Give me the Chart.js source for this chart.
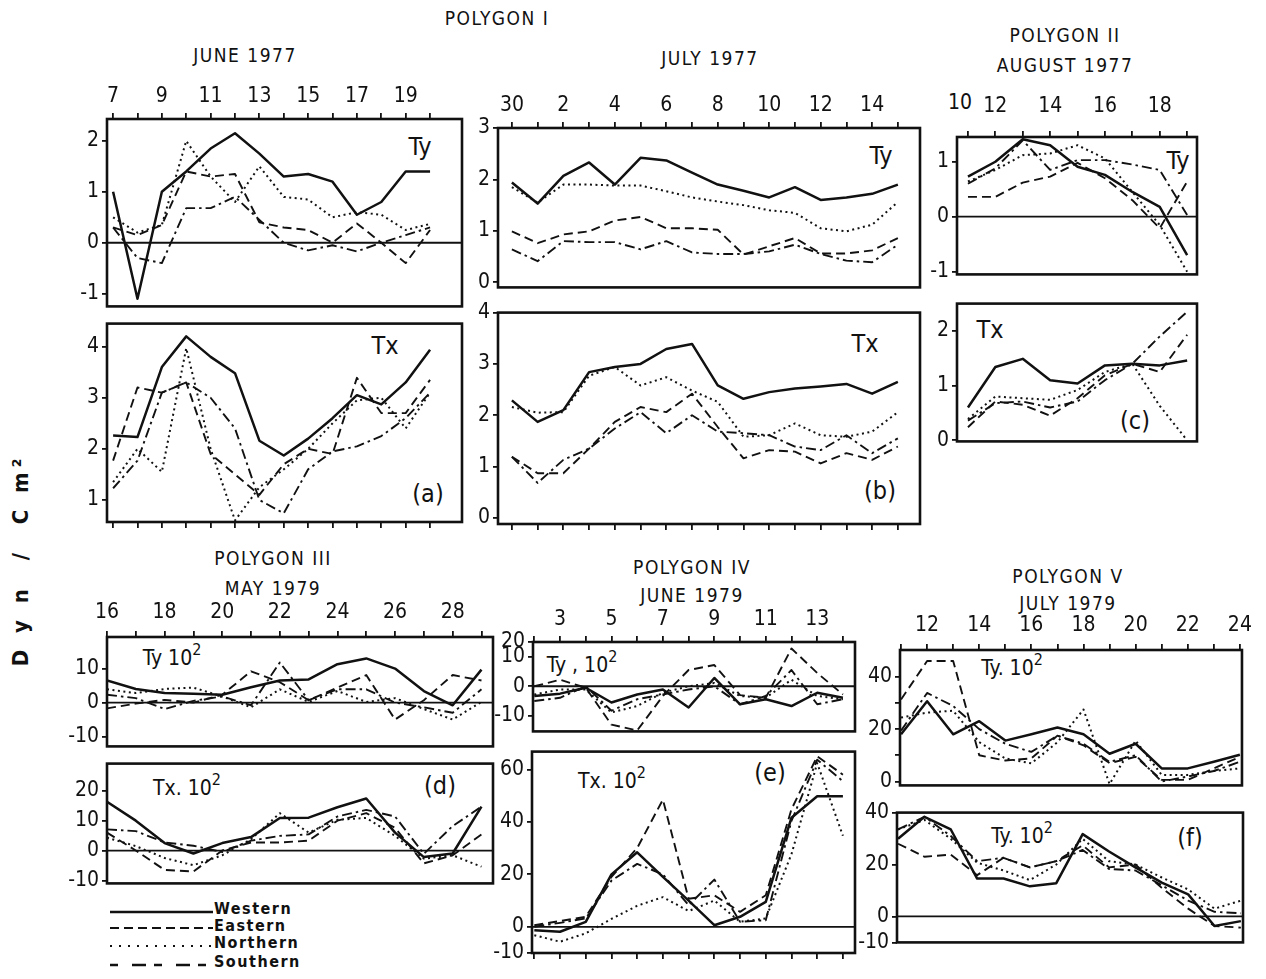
<!DOCTYPE html>
<html><head><meta charset="utf-8">
<script src="https://cdn.jsdelivr.net/npm/chart.js@4.4.1/dist/chart.umd.min.js"></script>
<style>
html,body{margin:0;padding:0;background:#fff;}
#page{position:relative;width:1266px;height:979px;overflow:hidden;font-family:"DejaVu Sans Condensed","DejaVu Sans",sans-serif;color:#111;background:#fff;}
canvas{position:absolute;}
.t{position:absolute;transform:translate(-50%,-50%);white-space:nowrap;font-size:19px;letter-spacing:1.5px;}
.lab{position:absolute;transform:translate(-50%,-50%);white-space:nowrap;font-size:25px;}
.lab2{position:absolute;transform:translate(-50%,-50%);white-space:nowrap;font-size:21px;}
.lab2 sup{font-size:16px;vertical-align:10px;}
.leg{position:absolute;transform:translateY(-50%);white-space:nowrap;font-size:16px;font-weight:bold;letter-spacing:1.5px;}
</style></head><body><div id="page">
<div class="t" style="left:497px;top:18px">POLYGON I</div>
<div class="t" style="left:245px;top:55px">JUNE 1977</div>
<div class="t" style="left:710px;top:58px">JULY 1977</div>
<div class="t" style="left:1065px;top:35px">POLYGON II</div>
<div class="t" style="left:1065px;top:65px">AUGUST 1977</div>
<div class="t" style="left:273px;top:558px">POLYGON III</div>
<div class="t" style="left:273px;top:588px">MAY 1979</div>
<div class="t" style="left:692px;top:567px">POLYGON IV</div>
<div class="t" style="left:692px;top:595px">JUNE 1979</div>
<div class="t" style="left:1068px;top:576px">POLYGON V</div>
<div class="t" style="left:1068px;top:603px">JULY 1979</div>
<div class="t" style="left:960px;top:102px;letter-spacing:0;font-size:21px">10</div>

<div class="lab" style="left:420px;top:146px">Ty</div>
<div class="lab" style="left:385px;top:345px">Tx</div>
<div class="lab" style="left:428px;top:493px">(a)</div>
<div class="lab" style="left:881px;top:155px">Ty</div>
<div class="lab" style="left:865px;top:343px">Tx</div>
<div class="lab" style="left:880px;top:490px">(b)</div>
<div class="lab" style="left:1178px;top:160px">Ty</div>
<div class="lab" style="left:990px;top:329px">Tx</div>
<div class="lab" style="left:1135px;top:420px">(c)</div>
<div class="lab2" style="left:172px;top:655px">Ty 10<sup>2</sup></div>
<div class="lab2" style="left:187px;top:785px">Tx. 10<sup>2</sup></div>
<div class="lab" style="left:440px;top:785px">(d)</div>
<div class="lab2" style="left:582px;top:662px">Ty , 10<sup>2</sup></div>
<div class="lab2" style="left:612px;top:778px">Tx. 10<sup>2</sup></div>
<div class="lab" style="left:770px;top:772px">(e)</div>
<div class="lab2" style="left:1012px;top:665px">Ty. 10<sup>2</sup></div>
<div class="lab2" style="left:1022px;top:833px">Ty. 10<sup>2</sup></div>
<div class="lab" style="left:1190px;top:837px">(f)</div>

<div style="position:absolute;left:20px;top:560px;transform:translate(-50%,-50%) rotate(-90deg);white-space:nowrap;font-size:22px;font-weight:bold;letter-spacing:5px;">D y n &nbsp;/ &nbsp;C m²</div>

<svg style="position:absolute;left:100px;top:895px" width="120" height="84">
 <line x1="10" y1="17" x2="113" y2="17" stroke="#111" stroke-width="2.4"/>
 <line x1="10" y1="33" x2="113" y2="33" stroke="#111" stroke-width="2.2" stroke-dasharray="9,5"/>
 <line x1="10" y1="51" x2="113" y2="51" stroke="#111" stroke-width="2.2" stroke-dasharray="2,7"/>
 <line x1="10" y1="70" x2="113" y2="70" stroke="#111" stroke-width="2.6" stroke-dasharray="8,14,14,8"/>
</svg>
<div class="leg" style="left:214px;top:908px">Western</div>
<div class="leg" style="left:214px;top:925px">Eastern</div>
<div class="leg" style="left:214px;top:942px">Northern</div>
<div class="leg" style="left:214px;top:961px">Southern</div>
</div>
<script>
const FONT = '"DejaVu Sans Condensed","DejaVu Sans",sans-serif';

// ---------- (a) Polygon I, June 1977 ----------
const aDays = [7,8,9,10,11,12,13,14,15,16,17,18,19,20];
const aTyW = [1.0,-1.1,1.0,1.4,1.85,2.15,1.75,1.3,1.35,1.2,0.55,0.8,1.4,1.4];
const aTyE = [0.3,0.15,0.35,1.4,1.3,1.35,0.4,0.3,0.25,0.0,0.38,0.0,-0.4,0.25];
const aTyN = [0.5,0.2,0.35,2.0,1.3,0.8,1.5,0.9,0.85,0.5,0.6,0.55,0.25,0.37];
const aTyS = [0.3,-0.3,-0.4,0.68,0.68,0.9,0.45,0.0,-0.15,-0.05,-0.17,0.0,0.15,0.3];
const aTxW = [2.26,2.23,3.6,4.2,3.8,3.48,2.16,1.87,2.2,2.6,3.05,2.87,3.3,3.94];
const aTxE = [1.77,3.2,3.1,3.3,1.9,1.5,1.1,1.7,2.0,1.9,3.39,2.7,2.7,3.35];
const aTxN = [1.35,2.0,1.55,3.97,2.0,0.6,1.25,1.6,2.0,2.5,2.95,3.0,2.4,3.1];
const aTxS = [1.23,1.77,3.1,3.3,3.0,2.4,1.0,0.74,1.6,1.95,2.05,2.25,2.6,3.1];

// ---------- (b) Polygon I, July 1977 (30 June .. 15 July) ----------
const bDays = [0,1,2,3,4,5,6,7,8,9,10,11,12,13,14,15];
const bDayLabels = ['30','1','2','3','4','5','6','7','8','9','10','11','12','13','14','15'];
const bTyW = [1.94,1.53,2.07,2.33,1.9,2.42,2.37,2.13,1.9,1.78,1.65,1.85,1.6,1.65,1.72,1.9];
const bTyE = [0.99,0.76,0.93,0.99,1.2,1.27,1.05,1.05,1.02,0.54,0.7,0.86,0.56,0.56,0.62,0.86];
const bTyN = [1.85,1.55,1.9,1.9,1.88,1.88,1.77,1.65,1.57,1.5,1.4,1.35,1.05,0.99,1.12,1.56];
const bTyS = [0.64,0.41,0.8,0.78,0.78,0.64,0.8,0.58,0.55,0.55,0.6,0.73,0.55,0.42,0.39,0.73];
const bTxW = [2.29,1.87,2.1,2.84,2.94,3.0,3.29,3.39,2.58,2.32,2.45,2.52,2.56,2.61,2.42,2.65];
const bTxE = [1.19,0.87,0.87,1.35,1.87,2.16,2.06,2.42,1.77,1.16,1.32,1.29,1.06,1.26,1.13,1.39];
const bTxN = [2.16,2.05,2.06,2.77,2.94,2.58,2.74,2.48,2.26,1.58,1.61,1.84,1.61,1.58,1.68,2.06];
const bTxS = [1.19,0.68,1.13,1.35,1.74,2.06,1.65,2.0,1.68,1.65,1.61,1.39,1.32,1.61,1.26,1.55];

// ---------- (c) Polygon II, August 1977 ----------
const cDays = [11,12,13,14,15,16,17,18,19];
const cTyW = [0.73,1.0,1.41,1.3,0.91,0.76,0.45,0.18,-0.7];
const cTyE = [0.36,0.36,0.62,0.73,0.98,0.7,0.3,-0.21,0.64];
const cTyN = [0.64,0.85,1.12,1.15,1.3,1.06,0.45,-0.15,-1.0];
const cTyS = [0.6,0.88,1.39,0.85,1.03,1.03,0.95,0.85,0.03];
const cTxW = [0.6,1.34,1.49,1.1,1.04,1.37,1.4,1.37,1.46];
const cTxE = [0.24,0.71,0.65,0.45,0.77,1.19,1.4,1.25,1.93];
const cTxN = [0.39,0.8,0.77,0.74,0.92,1.25,1.4,0.63,0.0];
const cTxS = [0.36,0.68,0.71,0.6,0.71,1.1,1.4,1.9,2.35];

// ---------- (d) Polygon III, May 1979 (x 10^2) ----------
const dDays = [16,17,18,19,20,21,22,23,24,25,26,27,28,29];
const dTyW = [6.5,4,2.8,2.6,2.3,4.5,6.5,6.8,11.3,13,10,3.4,-0.8,9.7];
const dTyE = [-1.7,-0.3,0.8,0.0,2.3,9.2,6,0.7,4.4,8.1,-5,0.7,8.1,6.5];
const dTyN = [3.9,2.8,4.0,4.4,1.8,-1.4,3.9,0.2,3.4,0.2,1.3,-1.9,-5,0.2];
const dTyS = [2.3,1.3,-1.9,0.5,1.8,-0.8,11.8,0.7,3.9,3.9,0,-1.4,-3,3.9];
const dTxW = [16.3,10,2.5,-1.0,2.5,4.5,10.9,11,14.5,17.4,6,-2.2,-1.0,14.7];
const dTxE = [6,0,-6.5,-7,0,2.7,2.7,3.3,10,12.5,7.6,-4.3,-1.6,5.4];
const dTxN = [4.3,1.5,-2.5,-4.9,-1.6,3.8,12.5,6,10.3,10.9,4.9,-2.7,-1.6,-5.4];
const dTxS = [7.1,6.5,2.7,1.6,-0.5,3.3,4.9,5.4,11.4,13.6,11.4,-1.1,8.2,14.7];

// ---------- (e) Polygon IV, June 1979 (x 10^2) ----------
const eDays = [2,3,4,5,6,7,8,9,10,11,12,13,14];
const eTyW = [-3.3,-2.5,-0.5,-5.5,-2.8,-1.1,-7.2,2.8,-6.1,-4.4,-6.7,-2.2,-3.9];
const eTyE = [0,2.2,-0.5,-13,-15,-3.3,5.5,7.2,-3,-3.9,12.8,4.5,-2.8];
const eTyN = [-2.8,-1.1,-1.1,-8.9,-6.7,-2.2,0,1.1,-3.3,-3.9,2.2,-3.3,-4.4];
const eTyS = [-5,-3.9,0,-8.3,-4.4,-2.8,-1.1,0,-6.1,-3.3,5.5,-6.1,-4.4];
const eTxW = [-1.3,-1.9,1.9,20,28.4,19,10,0.6,3.8,9.5,41.6,49.8,49.8];
const eTxE = [0.6,2.2,3.8,19,30,48.5,10.7,12,5.7,12,44.8,65,58];
const eTxN = [-3.2,-5.7,-2.5,3,8,11.3,6,10,1.9,3.2,27.7,62.4,34.7];
const eTxS = [0,1.5,3.2,17.6,24,20,8.2,18,1.9,2.5,40.4,63.7,55.5];

// ---------- (f) Polygon V, July 1979 (x 10^2) ----------
const fDays = [11,12,13,14,15,16,17,18,19,20,21,22,23,24];
const fTyW = [18,30.6,18,23,15.6,18,20.6,18,10.6,14.4,5,5,7.5,10.2];
const fTyE = [31.3,46,46,10,8,8.8,17.5,13.8,7,9.4,0.6,0.6,5,9.4];
const fTyN = [24.4,26.3,27,15,8.8,6.9,15,27.5,-1,15.6,2.5,2.5,4,5];
const fTyS = [19.4,33.8,28.8,20,14.4,11.3,17.5,14.4,7.5,10,0,1.9,4,7.5];
const fTxW = [29.9,38.4,33.5,14.6,14.6,11.6,12.8,31.7,25,18.9,13,8.5,-3.7,-1.8];
const fTxE = [28,23,23.8,15.9,22.6,18.9,21.3,27.4,18.9,20,11,3,-3.7,-4.3];
const fTxN = [33.5,37.2,29.9,20.7,17.7,14,20,29.9,21.3,20,15,10.4,3,6.1];
const fTxS = [33.5,38.4,31,21.3,22.6,18.9,21.3,25.6,18.3,17.7,12,6.1,1.8,1.2];

const STY = {
  W:{borderWidth:2.5, borderDash:[]},
  E:{borderWidth:1.9, borderDash:[9,5]},
  N:{borderWidth:2.0, borderDash:[2,3.5]},
  S:{borderWidth:1.9, borderDash:[10,4,2.5,4]}
};

Chart.register({
  id:'frame',
  beforeDatasetsDraw(chart, args, o){
    const a = chart.chartArea, c = chart.ctx;
    if (o.zero){
      const y = chart.scales.y.getPixelForValue(0);
      c.save(); c.strokeStyle='#111'; c.lineWidth=1.8;
      c.beginPath(); c.moveTo(a.left,y); c.lineTo(a.right,y); c.stroke(); c.restore();
    }
  },
  afterDraw(chart){
    const a = chart.chartArea, c = chart.ctx;
    c.save(); c.strokeStyle='#111'; c.lineWidth=2.6;
    c.strokeRect(a.left,a.top,a.right-a.left,a.bottom-a.top); c.restore();
  }
});

function range(a,b){const r=[];for(let i=a;i<=b;i++)r.push(i);return r;}

function panel(p){
  const YW=52, PR=16, PT=14, PB=14;
  const xPad = p.xPad || 4;
  const XH = p.xPos==='top'?(30+xPad):(p.xPos==='bottom'?7:0);
  const [l,t,r,b] = p.box;
  const cv = document.createElement('canvas');
  const w=(r-l)+YW+PR, h=(b-t)+PT+PB+XH;
  cv.width=w; cv.height=h;
  cv.style.width=w+'px'; cv.style.height=h+'px';
  cv.style.left=(l-YW)+'px';
  cv.style.top=(t-PT-(p.xPos==='top'?XH:0))+'px';
  document.getElementById('page').appendChild(cv);
  const datasets = p.series.map(([vals,k]) => Object.assign({
    data: p.days.map((d,i)=>({x:d,y:vals[i]})),
    borderColor:'#111', pointRadius:0, tension:0, fill:false,
    borderJoinStyle:'round'
  }, STY[k]));
  const tickFont = {family:FONT, size:21};
  new Chart(cv, {
    type:'line',
    data:{datasets},
    options:{
      responsive:false, animation:false, events:[],
      layout:{autoPadding:false, padding:{left:0,right:PR,top:PT,bottom:PB}},
      plugins:{legend:{display:false}, tooltip:{enabled:false}, frame:{zero:!!p.zero}},
      scales:{
        x:{type:'linear', display:p.xPos!=='none', position:p.xPos==='top'?'top':'bottom',
           min:p.xMin, max:p.xMax,
           afterBuildTicks(s){ s.ticks = p.xTicks.map(v=>({value:v})); },
           afterFit(s){ s.height = XH; },
           ticks:{autoSkip:false, maxRotation:0, minRotation:0, padding:xPad, color:'#111', font:tickFont,
                  callback:(v)=> p.xPos==='top' ? p.xLabel(v) : ''},
           grid:{drawOnChartArea:false, drawTicks:true, tickLength:6, color:'#111', lineWidth:1.8},
           border:{display:false}},
        y:{type:'linear', min:p.yMin, max:p.yMax,
           afterBuildTicks(s){ s.ticks = p.yTicks.map(v=>({value:v})); },
           afterFit(s){ s.width = YW; },
           ticks:{padding:3, color:'#111', font:tickFont,
                  callback:(v)=> p.yLabel ? p.yLabel(v) : String(v)},
           grid:{drawOnChartArea:false, drawTicks:true, tickLength:5, color:'#111', lineWidth:1.8},
           border:{display:false}}
      }
    }
  });
}

const odd = v => (v%2===1 ? String(v) : '');
const even = v => (v%2===0 ? String(v) : '');

// (a)
panel({box:[107,119,462,308], days:aDays, xMin:6.75, xMax:21.31, xTicks:range(7,20), xPos:'top', xLabel:odd,
  yMin:-1.25, yMax:2.43, yTicks:[-1,0,1,2], zero:true,
  series:[[aTyW,'W'],[aTyE,'E'],[aTyN,'N'],[aTyS,'S']]});
panel({box:[107,322,462,522], days:aDays, xMin:6.75, xMax:21.31, xTicks:range(7,20), xPos:'bottom',
  yMin:0.57, yMax:4.45, yTicks:[1,2,3,4],
  series:[[aTxW,'W'],[aTxE,'E'],[aTxN,'N'],[aTxS,'S']]});
// (b)
panel({box:[498,128,920,289], days:bDays, xMin:-0.54, xMax:15.86, xTicks:range(0,15), xPos:'top',
  xLabel:v => (v%2===0 ? bDayLabels[v] : ''),
  yMin:-0.1, yMax:3.0, yTicks:[0,1,2,3],
  series:[[bTyW,'W'],[bTyE,'E'],[bTyN,'N'],[bTyS,'S']]});
panel({box:[498,311,920,524], days:bDays, xMin:-0.54, xMax:15.86, xTicks:range(0,15), xPos:'bottom',
  yMin:-0.12, yMax:4.0, yTicks:[0,1,2,3,4],
  series:[[bTxW,'W'],[bTxE,'E'],[bTxN,'N'],[bTxS,'S']]});
// (c)
panel({box:[957,137,1197,276], days:cDays, xMin:10.6, xMax:19.36, xTicks:range(11,19), xPos:'top', xLabel:even, xPad:12,
  yMin:-1.05, yMax:1.45, yTicks:[-1,0,1], zero:true,
  series:[[cTyW,'W'],[cTyE,'E'],[cTyN,'N'],[cTyS,'S']]});
panel({box:[957,302,1197,443], days:cDays, xMin:10.6, xMax:19.36, xTicks:range(11,19), xPos:'none',
  yMin:-0.02, yMax:2.5, yTicks:[0,1,2],
  series:[[cTxW,'W'],[cTxE,'E'],[cTxN,'N'],[cTxS,'S']]});
// (d)
panel({box:[107,637,493,748], days:dDays, xMin:16, xMax:29.4, xTicks:range(16,29), xPos:'top', xLabel:even, xPad:6,
  yMin:-12.9, yMax:19.3, yTicks:[-10,0,10], zero:true,
  series:[[dTyW,'W'],[dTyE,'E'],[dTyN,'N'],[dTyS,'S']]});
panel({box:[107,762,493,885], days:dDays, xMin:16, xMax:29.4, xTicks:range(16,29), xPos:'none',
  yMin:-11, yMax:29.1, yTicks:[-10,0,10,20], zero:true,
  series:[[dTxW,'W'],[dTxE,'E'],[dTxN,'N'],[dTxS,'S']]});
// (e)
panel({box:[533,642,855,733], days:eDays, xMin:1.95, xMax:14.47, xTicks:range(2,14), xPos:'top', xLabel:odd,
  yMin:-15.3, yMax:15, yTicks:[-10,0,10,15], yLabel:v => (v===15 ? '20' : String(v)), zero:true,
  series:[[eTyW,'W'],[eTyE,'E'],[eTyN,'N'],[eTyS,'S']]});
panel({box:[532,750,855,953], days:eDays, xMin:1.91, xMax:14.47, xTicks:range(2,14), xPos:'bottom',
  yMin:-10, yMax:66.8, yTicks:[-10,0,20,40,60], zero:true,
  series:[[eTxW,'W'],[eTxE,'E'],[eTxN,'N'],[eTxS,'S']]});
// (f)
panel({box:[900,650,1242,787], days:fDays, xMin:10.96, xMax:24.08, xTicks:range(11,24), xPos:'top', xLabel:even, xPad:6,
  yMin:-1.5, yMax:50.2, yTicks:[0,10,20,30,40], yLabel:v => (v%20===0 ? String(v) : ''),
  series:[[fTyW,'W'],[fTyE,'E'],[fTyN,'N'],[fTyS,'S']]});
panel({box:[897,811,1243,944], days:fDays, xMin:10.96, xMax:24.08, xTicks:range(11,24), xPos:'none',
  yMin:-10, yMax:40, yTicks:[-10,0,20,40], zero:true,
  series:[[fTxW,'W'],[fTxE,'E'],[fTxN,'N'],[fTxS,'S']]});
</script>
</body></html>
